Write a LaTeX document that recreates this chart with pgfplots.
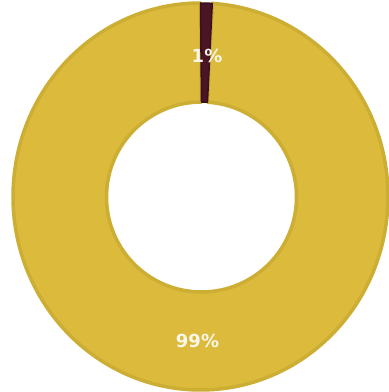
\documentclass[border=0pt]{standalone}
\usepackage{pgfplots}
\usepackage{pgfplotstable}
\pgfplotsset{compat=1.18}
\usepackage{fontspec}
\newfontfamily\labfont{DejaVu Sans}
\definecolor{gold}{HTML}{DBBA3C}
\definecolor{goldedge}{HTML}{CDAE34}
\definecolor{maroon}{HTML}{4B1526}
\definecolor{maroonedge}{HTML}{3A0F1C}
\definecolor{labwhite}{HTML}{FBF6EA}

\pgfplotstableread{
label value
1 1
99 99
}\slices

\newcommand\donutslice[5]{% start, end, fill, edge, width
  \fill[#3, draw=#4, line width=#5, line join=round]
    ([shift={(#1:187.5bp and 193.5bp)}]axis cs:200.5,195.5)
    arc[start angle=#1, end angle=#2, x radius=187.5bp, y radius=193.5bp]
    -- ([shift={(#2:95bp and 95bp)}]axis cs:201.5,195)
    arc[start angle=#2, end angle=#1, x radius=95bp, y radius=95bp]
    -- cycle;
}

\begin{document}
\begin{tikzpicture}
\pgfplotstablegetelem{0}{value}\of\slices
\pgfmathsetmacro\valA{\pgfplotsretval}
\pgfplotstablegetelem{1}{value}\of\slices
\pgfmathsetmacro\valB{\pgfplotsretval}
\pgfmathsetmacro\tot{\valA+\valB}
\pgfmathsetmacro\angA{90}
\pgfmathsetmacro\angB{90-360*(\valA/\tot)}
\pgfmathsetmacro\angC{\angB-360*(\valB/\tot)}
\begin{axis}[
  scale only axis,
  width=389bp, height=392bp,
  xmin=0, xmax=389, ymin=0, ymax=392,
  hide axis,
  clip=false,
]
\addplot[draw=none, forget plot] coordinates {(0,0) (389,392)};
\donutslice{\angB}{\angC}{gold}{goldedge}{3.5bp}
\donutslice{\angA}{\angB}{maroon}{maroonedge}{1.5bp}
\node[text=labwhite, font=\labfont\bfseries\fontsize{18bp}{20bp}\selectfont] at (axis cs:207,336) {1\%};
\node[text=labwhite, font=\labfont\bfseries\fontsize{18bp}{20bp}\selectfont] at (axis cs:197.5,51) {99\%};
\end{axis}
\pgfresetboundingbox
\useasboundingbox (current axis.south west) rectangle (current axis.north east);
\end{tikzpicture}
\end{document}
